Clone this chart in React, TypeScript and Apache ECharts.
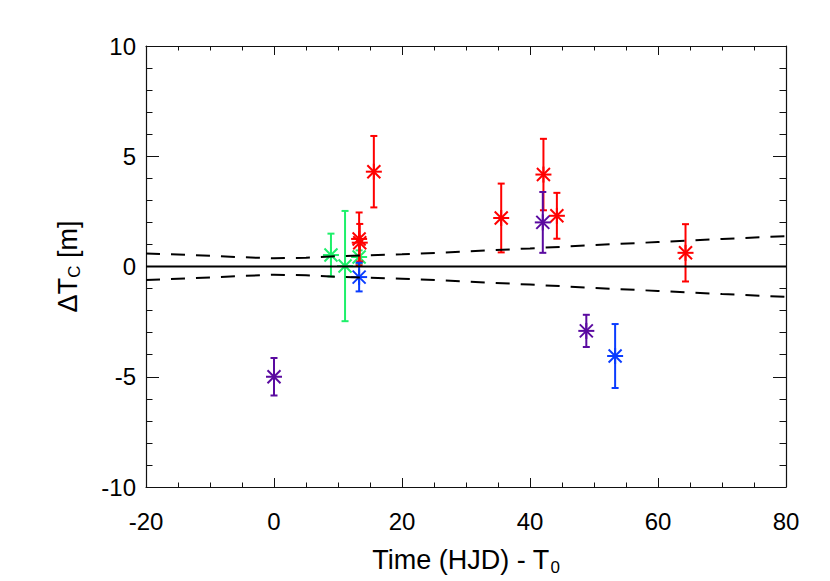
import React, { useEffect, useRef } from "react";
import * as echarts from "echarts";

// x (HJD - T0), y (ΔTc in minutes), error
const purplePts: number[][] = [
  [0.0, -5.0, 0.85],
  [42.0, 2.0, 1.38],
  [48.8, -2.92, 0.73],
];
const bluePts: number[][] = [
  [13.3, -0.48, 0.65],
  [53.3, -4.06, 1.45],
];
const greenPts: number[][] = [
  [8.9, 0.52, 0.97],
  [11.1, 0.02, 2.5],
  [13.3, 0.43, 0.3],
];
const redPts: number[][] = [
  [13.3, 1.25, 1.2],
  [13.4, 1.08, 0.85],
  [15.6, 4.3, 1.62],
  [35.5, 2.2, 1.56],
  [42.1, 4.17, 1.62],
  [44.2, 2.3, 1.04],
  [64.3, 0.62, 1.3],
];

const bandX = [-20, -10, -5, 0, 5, 10, 20, 30, 40, 50, 60, 70, 80];
const bandUpper = [0.59, 0.49, 0.42, 0.37, 0.4, 0.47, 0.55, 0.68, 0.82, 0.97, 1.11, 1.25, 1.38];
const bandLower = [-0.61, -0.5, -0.43, -0.37, -0.4, -0.47, -0.55, -0.68, -0.82, -0.97, -1.11, -1.25, -1.38];

const zeroX = [-20, 80];
const zeroY = [0, 0];

const xTicks = [-20, 0, 20, 40, 60, 80];
const yTicks = [-10, -5, 0, 5, 10];

const FONT = "Liberation Sans";

function errSeries(name: string, pts: number[][], color: string, z: number) {
  return {
    name,
    type: "custom",
    z,
    data: pts,
    renderItem: (params: any, api: any) => {
      const x = api.value(0);
      const y = api.value(1);
      const e = api.value(2);
      const c = api.coord([x, y]);
      const t = api.coord([x, y + e]);
      const b = api.coord([x, y - e]);
      const cap = 3.5;
      const arm = 8;
      const d = 6.5;
      const st = { stroke: color, lineWidth: 2 };
      const stStar = { stroke: color, lineWidth: 2 };
      return {
        type: "group",
        children: [
          { type: "line", shape: { x1: t[0], y1: t[1], x2: b[0], y2: b[1] }, style: st },
          { type: "line", shape: { x1: t[0] - cap, y1: t[1], x2: t[0] + cap, y2: t[1] }, style: st },
          { type: "line", shape: { x1: b[0] - cap, y1: b[1], x2: b[0] + cap, y2: b[1] }, style: st },
          { type: "line", shape: { x1: c[0] - arm, y1: c[1], x2: c[0] + arm, y2: c[1] }, style: stStar },
          { type: "line", shape: { x1: c[0], y1: c[1] - arm, x2: c[0], y2: c[1] + arm }, style: stStar },
          { type: "line", shape: { x1: c[0] - d, y1: c[1] - d, x2: c[0] + d, y2: c[1] + d }, style: stStar },
          { type: "line", shape: { x1: c[0] - d, y1: c[1] + d, x2: c[0] + d, y2: c[1] - d }, style: stStar },
        ],
      };
    },
  };
}

export default function App() {
  const ref = useRef<HTMLDivElement>(null);
  useEffect(() => {
    if (!ref.current) return;
    const chart = echarts.init(ref.current, undefined, { renderer: "svg" });
    const axisCommon = {
      type: "value",
      axisLine: { show: true, onZero: false, lineStyle: { color: "#111", width: 1.2 } },
      splitLine: { show: false },
    };
    const xAxisBase = {
      ...axisCommon,
      min: xTicks[0],
      max: xTicks[xTicks.length - 1],
      interval: 20,
      axisTick: { show: true, inside: true, length: 9, lineStyle: { color: "#111", width: 1 } },
      minorTick: { show: true, splitNumber: 4, length: 4.5, lineStyle: { color: "#111", width: 1 } },
    };
    const yAxisBase = {
      ...axisCommon,
      min: yTicks[0],
      max: yTicks[yTicks.length - 1],
      interval: 5,
      axisTick: { show: true, inside: true, length: 13, lineStyle: { color: "#111", width: 1 } },
      minorTick: { show: true, splitNumber: 5, length: 6.5, lineStyle: { color: "#111", width: 1 } },
    };
    chart.setOption({
      animation: false,
      backgroundColor: "#fff",
      grid: { left: 146, top: 46, width: 640, height: 441 },
      xAxis: [
        {
          ...xAxisBase,
          position: "bottom",
          axisLabel: {
            show: true,
            margin: 22,
            fontSize: 24,
            color: "#000",
            fontFamily: FONT,
            showMinLabel: true,
            showMaxLabel: true,
          },
          name: "Time (HJD) - T{sub|0}",
          nameLocation: "middle",
          nameGap: 56,
          nameTextStyle: {
            fontSize: 27,
            color: "#000",
            fontFamily: FONT,
            rich: {
              sub: { fontSize: 17, color: "#000", fontFamily: FONT, padding: [16, 0, 0, 1] },
            },
          },
        },
        { ...xAxisBase, position: "top", axisLabel: { show: false } },
      ],
      yAxis: [
        {
          ...yAxisBase,
          position: "left",
          axisLabel: {
            show: true,
            margin: 10,
            fontSize: 24,
            color: "#000",
            fontFamily: FONT,
            showMinLabel: true,
            showMaxLabel: true,
          },
          name: "ΔT{sub|C} [m]",
          nameLocation: "middle",
          nameGap: 63,
          nameTextStyle: {
            fontSize: 27,
            color: "#000",
            fontFamily: FONT,
            rich: {
              sub: { fontSize: 17, color: "#000", fontFamily: FONT, padding: [14, 0, 0, 0] },
            },
          },
        },
        { ...yAxisBase, position: "right", axisLabel: { show: false } },
      ],
      series: [
        errSeries("green", greenPts, "#1ef06a", 2),
        errSeries("red", redPts, "#ff0000", 3),
        errSeries("purple", purplePts, "#5a0aa0", 4),
        errSeries("blue", bluePts, "#0a3cff", 5),
        {
          type: "line",
          z: 6,
          symbol: "none",
          silent: true,
          data: zeroX.map((x, i) => [x, zeroY[i]]),
          lineStyle: { color: "#000", width: 2 },
        },
        {
          type: "line",
          z: 6,
          symbol: "none",
          silent: true,
          data: bandX.map((x, i) => [x, bandUpper[i]]),
          lineStyle: { color: "#000", width: 2, type: [14, 11] },
        },
        {
          type: "line",
          z: 6,
          symbol: "none",
          silent: true,
          data: bandX.map((x, i) => [x, bandLower[i]]),
          lineStyle: { color: "#000", width: 2, type: [14, 11] },
        },
      ],
    });
    return () => chart.dispose();
  }, []);
  return (
    <div
      ref={ref}
      style={{ position: "absolute", left: 0, top: 0, width: 830, height: 581, background: "#fff" }}
    />
  );
}
